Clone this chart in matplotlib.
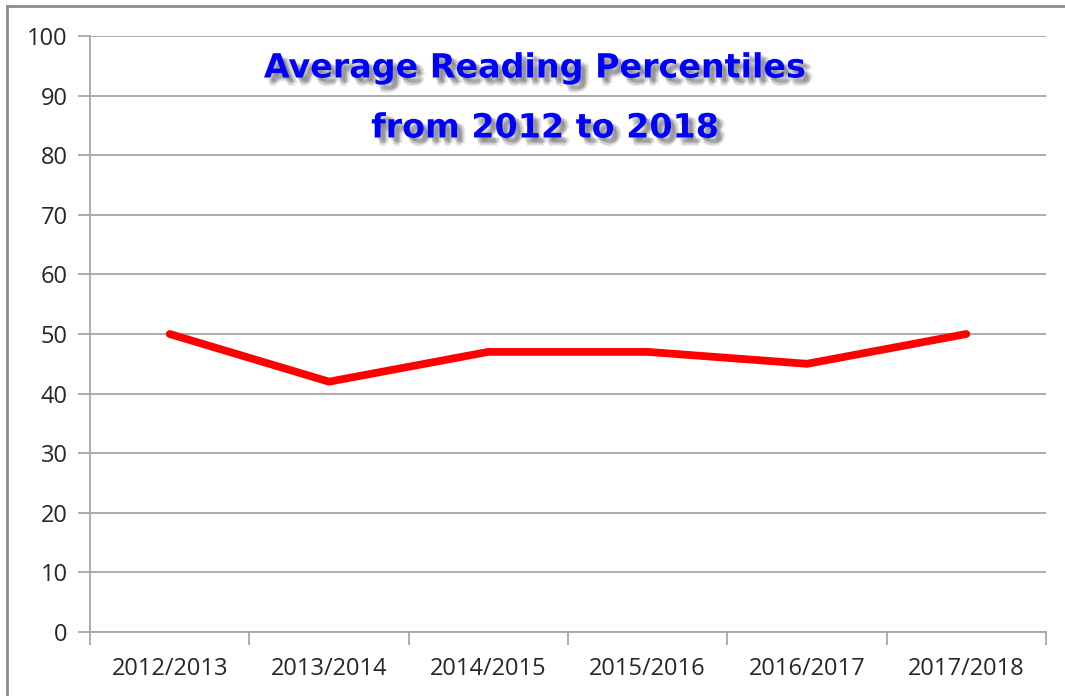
import matplotlib
matplotlib.use("Agg")
import matplotlib.pyplot as plt
import matplotlib.patheffects as pe
from matplotlib.lines import Line2D

# data
years = ["2012/2013", "2013/2014", "2014/2015", "2015/2016", "2016/2017", "2017/2018"]
percentiles = [50, 42, 47, 47, 45, 50]
yticks = list(range(0, 101, 10))

grid_col = "#a6a6a6"

fig = plt.figure(figsize=(10.65, 6.96), dpi=100)
ax = fig.add_axes([90 / 1065, 1 - 632 / 696, (1046 - 90) / 1065, (632 - 36) / 696])

x = list(range(len(years)))
ax.plot(x, percentiles, color="#ff0000", lw=5.6, solid_capstyle="round",
        solid_joinstyle="round", zorder=3)

ax.set_xlim(-0.5, len(years) - 0.5)
ax.set_ylim(0, 100)
ax.set_yticks(yticks)
ax.set_yticklabels([str(v) for v in yticks])
ax.set_xticks(x)
ax.set_xticklabels(years)
# category boundary ticks
ax.set_xticks([i - 0.5 for i in range(len(years) + 1)], minor=True)
ax.tick_params(axis="x", which="major", length=0, pad=18)
ax.tick_params(axis="x", which="minor", length=9, width=1.3, color=grid_col)
ax.tick_params(axis="y", length=9, width=1.3, color=grid_col, pad=7)
for lab in ax.get_xticklabels() + ax.get_yticklabels():
    lab.set_fontfamily("Open Sans")
    lab.set_fontsize(17)
    lab.set_color("#262626")

ax.grid(axis="y", color=grid_col, lw=1.3)
ax.set_axisbelow(True)
for s in ["top", "right"]:
    ax.spines[s].set_visible(False)
ax.spines["left"].set_color(grid_col)
ax.spines["bottom"].set_color(grid_col)
ax.spines["left"].set_linewidth(1.3)
ax.spines["bottom"].set_linewidth(1.3)

# title with soft shadow
shadow = [pe.SimplePatchShadow(offset=(dx, dy), shadow_rgbFace="#444444", alpha=0.12)
          for dx, dy in [(2, -2), (3, -3), (4, -4), (3, -5), (5, -3), (4, -6), (6, -4)]]
shadow.append(pe.Normal())
fig.text(535 / 1065, 1 - 68 / 696, "Average Reading Percentiles", ha="center", va="center",
         fontsize=24, fontweight="bold", color="#0000ff", family="DejaVu Sans",
         path_effects=shadow)
fig.text(545 / 1065, 1 - 128 / 696, "from 2012 to 2018", ha="center", va="center",
         fontsize=24, fontweight="bold", color="#0000ff", family="DejaVu Sans",
         path_effects=shadow)

# chart-area border (top and left visible)
fig.add_artist(Line2D([7 / 1065, 7 / 1065], [0, 1 - 6 / 696], transform=fig.transFigure,
                      color="#8c8c8c", lw=2))
fig.add_artist(Line2D([7 / 1065, 1], [1 - 6 / 696, 1 - 6 / 696], transform=fig.transFigure,
                      color="#8c8c8c", lw=2))

fig.savefig("out.png", dpi=100)
